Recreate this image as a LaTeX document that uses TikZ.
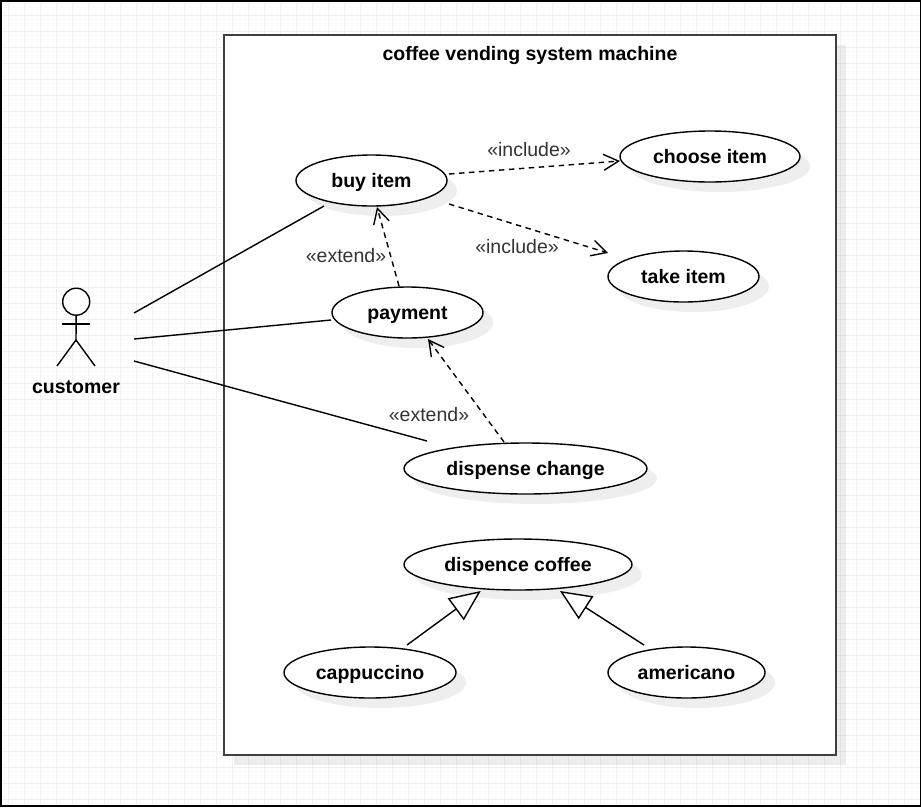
\documentclass[tikz,border=0pt]{standalone}
\usepackage{fontspec}
\setmainfont{Liberation Sans}
\usetikzlibrary{arrows.meta,shapes.geometric,shadows,calc}
\definecolor{gridc}{HTML}{F0F0F0}
\definecolor{gridf}{HTML}{FCFCFC}
\definecolor{framec}{HTML}{404040}
\definecolor{labelc}{HTML}{333333}
\tikzset{
  softshadow/.style={general shadow={fill=black,opacity=.065,shadow xshift=10pt,shadow yshift=-10pt}},
  usecase/.style={ellipse,draw=black,fill=white,line width=1.4pt,inner sep=0pt,outer sep=0pt,softshadow,
    font=\fontsize{19.5}{23}\selectfont\bfseries,text height=16pt,text depth=2pt},
  sysframe/.style={rectangle,draw=framec,fill=white,line width=2.2pt,inner sep=0pt,outer sep=0pt,softshadow},
  title/.style={font=\fontsize{19.5}{23}\selectfont\bfseries,inner sep=0pt,text height=16pt,text depth=2pt},
  stereo/.style={font=\fontsize{19.5}{23}\selectfont,text=labelc,inner sep=0pt,text height=16pt,text depth=2pt},
  assoc/.style={draw=black,line width=1.4pt},
  depend/.style={draw=black,line width=1.4pt,dash pattern=on 5.5pt off 4.5pt,-{Straight Barb[length=15pt,width=16pt,line width=1.4pt]}},
  general/.style={draw=black,line width=1.4pt,-{Triangle[open,fill=white,length=31pt,width=27pt,line width=1.4pt]}},
  stick/.style={draw=black,line width=1.4pt}
}
\begin{document}
\begin{tikzpicture}[x=1pt,y=-1pt]
\useasboundingbox (0,0) rectangle (921,807);
\fill[white] (0,0) rectangle (921,807);
% grid
\foreach \g in {0,4,...,920} \draw[gridf,line width=1pt] (\g,0) -- (\g,807);
\foreach \g in {3.5,7.5,...,807} \draw[gridf,line width=1pt] (0,\g) -- (921,\g);
\foreach \g in {8,24,...,920} \draw[gridc,line width=1pt] (\g,0) -- (\g,807);
\foreach \g in {15.5,31.5,...,807} \draw[gridc,line width=1pt] (0,\g) -- (921,\g);
% outer border
\draw[black,line width=2pt] (1,1) rectangle (920.5,806);
% system frame
\node[sysframe,minimum width=612pt,minimum height=720pt] (system) at (530,395) {};
\node[title] (systitle) at (530,53) {coffee vending system machine};
% use cases
\node[usecase,minimum width=151pt,minimum height=51pt] (buy) at (371.5,180.5) {buy item};
\node[usecase,minimum width=180pt,minimum height=51pt] (choose) at (710,156.5) {choose item};
\node[usecase,minimum width=151pt,minimum height=51pt] (take) at (683.5,276.5) {take item};
\node[usecase,minimum width=151pt,minimum height=51pt] (payment) at (407.5,312.5) {payment};
\node[usecase,minimum width=243pt,minimum height=51pt] (change) at (525.5,468.5) {dispense change};
\node[usecase,minimum width=228pt,minimum height=51pt] (coffee) at (518,564.5) {dispence coffee};
\node[usecase,minimum width=172pt,minimum height=51pt] (capp) at (370,672.5) {cappuccino};
\node[usecase,minimum width=157pt,minimum height=51pt] (amer) at (686.5,672.5) {americano};
% actor
\coordinate (customer) at (76,340);
\node[draw=black,line width=1.4pt,circle,fill=white,minimum size=27pt,inner sep=0pt,outer sep=0pt] (head) at (76.2,301.7) {};
\draw[stick] (head.south) -- (customer);
\draw[stick] ($(customer)+(-14,-16)$) -- ($(customer)+(14,-16)$);
\draw[stick] ($(customer)+(-19,26)$) -- (customer) -- ($(customer)+(19,26)$);
\node[title] (custlabel) at (76,386) {customer};
% associations
\draw[assoc] ($(customer)+(58,-27)$) -- ($(buy)+(-47.5,25.5)$);
\draw[assoc] ($(customer)+(58,-1)$) -- ($(payment)+(-76.5,7.5)$);
\draw[assoc] ($(customer)+(58,21)$) -- ($(change)+(-98.5,-27.5)$);
% dependencies
\draw[depend] ($(buy)+(77.5,-6.5)$) -- ($(choose)+(-90,4.5)$);
\draw[depend] ($(buy)+(77.5,23.5)$) -- ($(take)+(-75.5,-23.5)$);
\draw[depend] ($(payment)+(-8.5,-26.5)$) -- ($(buy)+(5.5,26.5)$);
\draw[depend] ($(change)+(-21.5,-26.5)$) -- ($(payment)+(20.5,26.5)$);
% generalisations
\draw[general] ($(capp)+(37,-27.5)$) -- ($(coffee)+(-37.3,26.5)$);
\draw[general] ($(amer)+(-42.5,-27.5)$) -- ($(coffee)+(42,26.5)$);
% stereotypes
\node[stereo] (inc1) at (529,149) {«include»};
\node[stereo] (inc2) at (517,246) {«include»};
\node[stereo] (ext1) at (346,255) {«extend»};
\node[stereo] (ext2) at (429,414) {«extend»};
\end{tikzpicture}
\end{document}
